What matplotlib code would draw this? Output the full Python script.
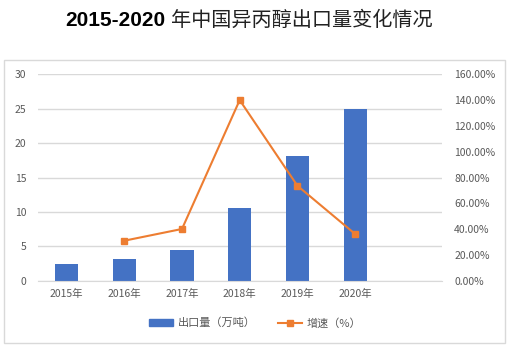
import matplotlib
matplotlib.use("Agg")
import matplotlib.pyplot as plt
from matplotlib.patches import Rectangle
from matplotlib.lines import Line2D
from matplotlib.ticker import FuncFormatter

plt.rcParams['font.family'] = ['Noto Sans CJK SC', 'DejaVu Sans']

# data
years = ['2015年', '2016年', '2017年', '2018年', '2019年', '2020年']
export_wt = [2.43, 3.11, 4.41, 10.52, 18.17, 24.9]   # 万吨
growth_yrs = ['2016年', '2017年', '2018年', '2019年', '2020年']
growth_pct = [31.0, 40.1, 140.0, 73.6, 36.2]         # %

blue = '#4472C4'
orange = '#ED7D31'
grey_txt = '#595959'

fig = plt.figure(figsize=(5.1, 3.47), dpi=100)

# light frame around the chart area
fig.patches.append(Rectangle((4 / 510, 1 - 343 / 347), 501 / 510, 283 / 347,
                             transform=fig.transFigure, fill=False,
                             edgecolor='#D9D9D9', linewidth=1.0))

# title: bold digits + regular chinese
ty = 1 - 20 / 347
fig.text(165 / 510, ty, '2015-2020', ha='right', va='center', fontsize=15,
         fontweight='bold', family=['Liberation Sans', 'DejaVu Sans'])
fig.text(171 / 510, ty, '年中国异丙醇出口量变化情况', ha='left', va='center',
         fontsize=14.5, color='#222222')

ax = fig.add_axes([37.7 / 510, 1 - 280.7 / 347, 404 / 510, 206.4 / 347])
x = list(range(len(years)))
ax.bar(x, export_wt, width=0.4, color=blue, zorder=2)
ax.set_xlim(-0.5, 6.5)
ax.set_ylim(0, 30)
ax.set_yticks(range(0, 31, 5))
ax.set_xticks(x)
ax.set_xticklabels(years)
ax.grid(axis='y', color='#D9D9D9', linewidth=1.0, zorder=0)
for s in ax.spines.values():
    s.set_visible(False)
ax.spines['bottom'].set_visible(True)
ax.spines['bottom'].set_color('#D9D9D9')
ax.tick_params(axis='both', length=0, labelsize=7.5, labelcolor=grey_txt)
ax.tick_params(axis='y', pad=8)
ax.tick_params(axis='x', pad=6)

ax2 = ax.twinx()
gx = [years.index(y) for y in growth_yrs]
ax2.plot(gx, growth_pct, color=orange, linewidth=1.5, marker='s',
         markersize=5, zorder=3)
ax2.set_ylim(0, 160)
ax2.set_yticks(range(0, 161, 20))
ax2.yaxis.set_major_formatter(FuncFormatter(lambda v, p: f'{v:.2f}%'))
for s in ax2.spines.values():
    s.set_visible(False)
ax2.tick_params(axis='y', length=0, labelsize=7.5, labelcolor=grey_txt, pad=9)

handles = [Rectangle((0, 0), 1, 1, color=blue),
           Line2D([0], [0], color=orange, linewidth=1.5, marker='s', markersize=5)]
fig.legend(handles, ['出口量（万吨）', '增速（%）'], loc='center',
           bbox_to_anchor=(255 / 510, 1 - 323 / 347), ncol=2, frameon=False,
           fontsize=8, labelcolor=grey_txt, handlelength=2.2, handleheight=0.5,
           columnspacing=2.0, handletextpad=0.4)

fig.savefig('out.png', dpi=100)
